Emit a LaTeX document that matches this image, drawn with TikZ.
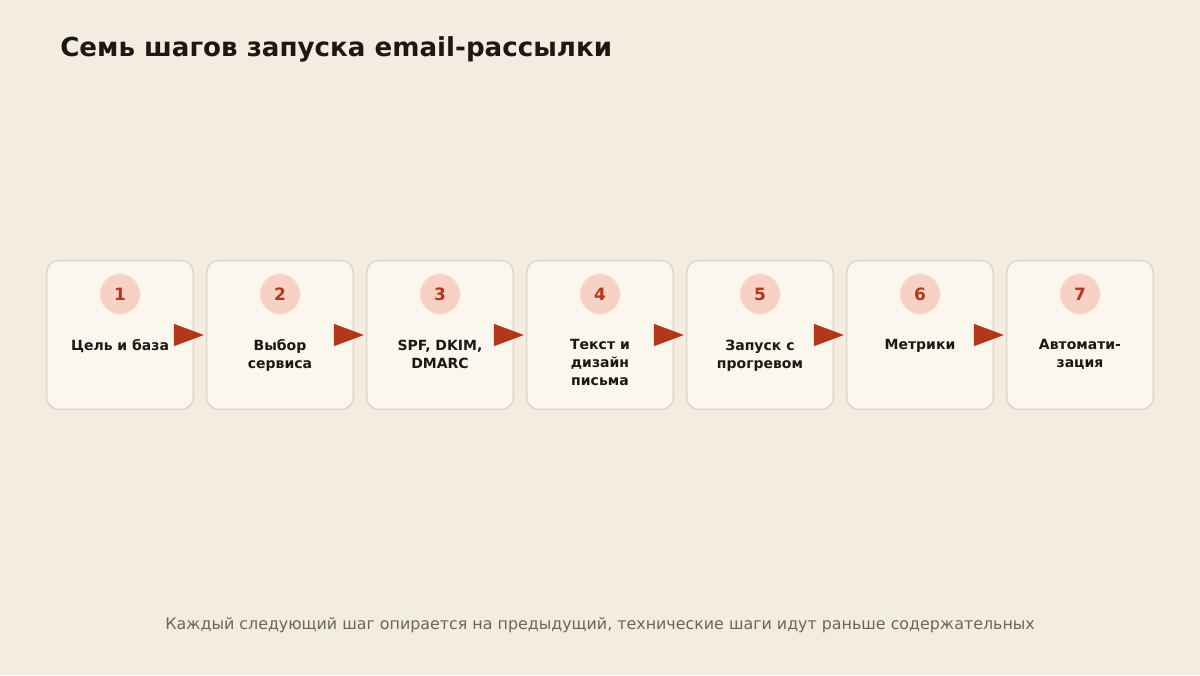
\documentclass[tikz,border=0pt]{standalone}
\usepackage{fontspec}
\setmainfont{DejaVu Sans}
\usetikzlibrary{arrows.meta}
\definecolor{bgcol}{HTML}{F3ECE1}
\definecolor{cardfill}{HTML}{FBF6EE}
\definecolor{cardline}{HTML}{E2D6C5}
\definecolor{badgefill}{HTML}{F7D1C4}
\definecolor{accent}{HTML}{B5371A}
\definecolor{inkcol}{HTML}{1E1812}
\definecolor{notecol}{HTML}{6E645A}
\tikzset{
  stepcard/.style={draw=cardline,fill=cardfill,line width=1.1pt,rounded corners=9pt,
    minimum width=110pt,minimum height=111.5pt,inner sep=0pt},
  badge/.style={circle,fill=badgefill,minimum size=30pt,inner sep=0pt,text=accent,
    font=\bfseries\fontsize{12.75pt}{14pt}\selectfont},
  steplabel/.style={align=center,inner sep=0pt,text=inkcol,
    font=\bfseries\fontsize{10.5pt}{13.5pt}\selectfont},
  flowarrow/.style={draw=accent,line width=0.8pt,
    -{Triangle[length=22.5pt,width=16.5pt]},fill=accent,shorten >=1.5pt}
}
\begin{document}
\begin{tikzpicture}[x=0.75pt,y=-0.75pt]
\fill [bgcol] (0,0) rectangle (1200,675);
\useasboundingbox (0,0) rectangle (1200,675);
\node (title) [anchor=base west,inner sep=0pt,text=inkcol,
  font=\bfseries\fontsize{19.6pt}{22pt}\selectfont] at (60,56) {Семь шагов запуска email-рассылки};
\foreach \n/\txt in {1/{Цель и база},2/{Выбор\\сервиса},3/{SPF, DKIM,\\DMARC},
    4/{Текст и\\дизайн\\письма},5/{Запуск с\\прогревом},6/{Метрики},7/{Автомати-\\зация}}
{
  \node (card\n) [stepcard] at ({120+160*(\n-1)},335) {};
  \node (num\n) [badge] at ({120+160*(\n-1)},294) {\n};
  \node (lab\n) [steplabel,anchor=north] at ({120+160*(\n-1)},339.5) {\txt};
}
\foreach \a/\b in {1/2,2/3,3/4,4/5,5/6,6/7}
  \draw [flowarrow] (card\a.east) -- (card\b.west);
\node (note) [anchor=base,inner sep=0pt,text=notecol,
  font=\fontsize{11.9pt}{14pt}\selectfont] at (600,629)
  {Каждый следующий шаг опирается на предыдущий, технические шаги идут раньше содержательных};
\end{tikzpicture}
\end{document}
